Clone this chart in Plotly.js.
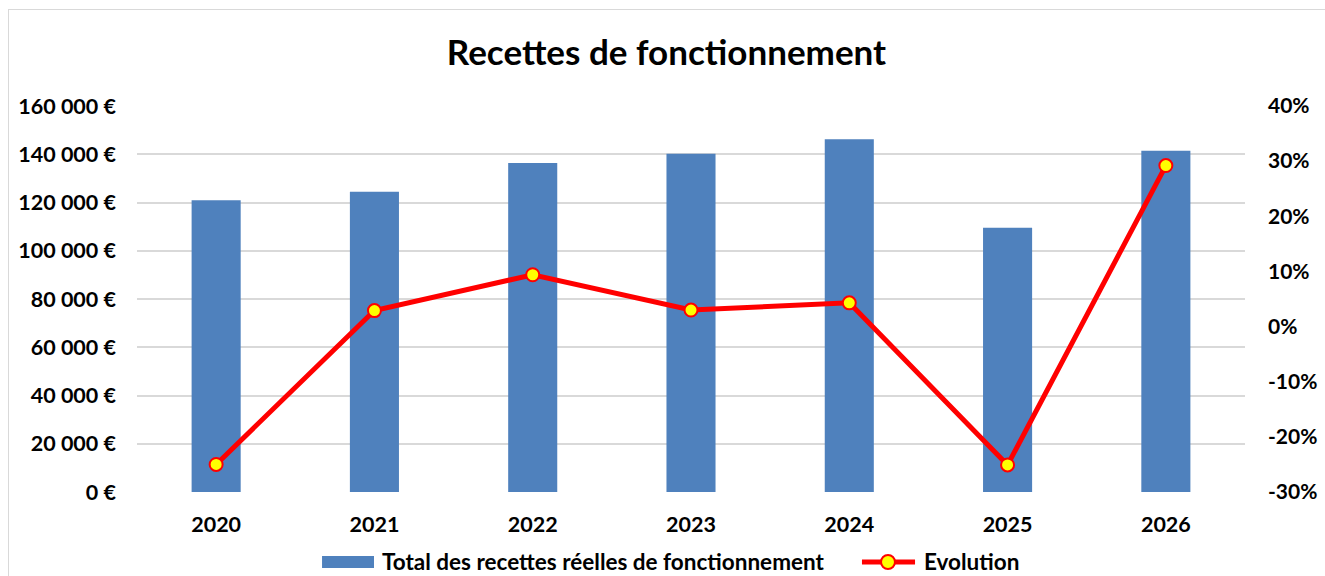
<!DOCTYPE html>
<html>
<head>
<meta charset="utf-8">
<script src="https://cdn.plot.ly/plotly-3.0.1.min.js"></script>
<style>
  html, body { margin: 0; padding: 0; background: #fff; }
  #frame { position: absolute; left: 8px; top: 9px; width: 1330px; height: 580px; border: 1px solid #d9d9d9; box-sizing: border-box; }
  #chart { position: absolute; left: 0; top: 0; width: 1325px; height: 576px; }
</style>
</head>
<body>
<div id="frame"></div>
<div id="chart"></div>
<script>
// Recettes de fonctionnement, 2020-2026
const years = ['2020', '2021', '2022', '2023', '2024', '2025', '2026'];
const recettes = [120900, 124500, 136400, 140200, 146200, 109500, 141500];
const evolution = [-0.250, 0.029, 0.094, 0.030, 0.043, -0.251, 0.292];

const leftTicks = [0, 20000, 40000, 60000, 80000, 100000, 120000, 140000, 160000];
const leftLabels = ['0 €', '20 000 €', '40 000 €', '60 000 €', '80 000 €', '100 000 €', '120 000 €', '140 000 €', '160 000 €'];
const rightTicks = [-0.3, -0.2, -0.1, 0, 0.1, 0.2, 0.3, 0.4];
const rightLabels = ['-30%', '-20%', '-10%', '0%', '10%', '20%', '30%', '40%'];

const BAR_COLOR = '#4f81bd';
const LINE_COLOR = '#ff0000';
const MARKER_COLOR = '#ffff00';
const FONT = 'Lato, "Open Sans", sans-serif';

const bold = s => '<b>' + s + '</b>';

const traces = [
    {
        x: years,
        y: recettes,
        name: 'Total des recettes réelles de fonctionnement',
        type: 'bar',
        marker: { color: BAR_COLOR }
    },
    {
        x: years,
        y: evolution,
        name: 'Evolution',
        type: 'scatter',
        mode: 'lines+markers',
        yaxis: 'y2',
        line: { color: LINE_COLOR, width: 5 },
        marker: { color: MARKER_COLOR, size: 13, line: { color: LINE_COLOR, width: 2 } }
    }
];

// hand-built legend (wide bar swatch like the original)
const legendShapes = [
    { type: 'rect', xref: 'paper', yref: 'paper', x0: 0.167, x1: 0.2139, y0: -0.1969, y1: -0.1658,
      fillcolor: BAR_COLOR, line: { width: 0 } },
    { type: 'line', xref: 'paper', yref: 'paper', x0: 0.6543, x1: 0.7022, y0: -0.1813, y1: -0.1813,
      line: { color: LINE_COLOR, width: 5 } },
    { type: 'circle', xref: 'paper', yref: 'paper', x0: 0.6715, x1: 0.6841, y0: -0.1995, y1: -0.1632,
      fillcolor: MARKER_COLOR, line: { color: LINE_COLOR, width: 2 } }
];
const legendLabels = [
    { text: bold(traces[0].name), x: 0.2193 },
    { text: bold(traces[1].name), x: 0.7085 }
].map(l => ({
    text: l.text, x: l.x, y: -0.1813, xref: 'paper', yref: 'paper',
    xanchor: 'left', yanchor: 'middle', showarrow: false,
    font: { size: 22.5, family: FONT, color: '#000' }
}));

const layout = {
    width: 1325,
    height: 576,
    font: { family: FONT, color: '#000' },
    paper_bgcolor: 'rgba(0,0,0,0)',
    plot_bgcolor: 'rgba(0,0,0,0)',
    margin: { l: 137, r: 80, t: 106, b: 84 },
    bargap: 0.69,
    showlegend: false,
    title: {
        text: bold('Recettes de fonctionnement'),
        font: { size: 35, family: FONT, color: '#000' },
        x: 0.503,
        xanchor: 'center',
        y: 0.908,
        yanchor: 'middle'
    },
    shapes: legendShapes,
    annotations: legendLabels,
    xaxis: {
        type: 'category',
        tickvals: years,
        ticktext: years.map(bold),
        showgrid: false,
        showline: false,
        zeroline: false,
        ticks: '',
        tickfont: { size: 21.5, family: FONT },
        ticklabelstandoff: 17
    },
    yaxis: {
        range: [0, 160000],
        tickvals: leftTicks,
        ticktext: leftLabels.map(bold),
        showgrid: true,
        gridcolor: '#d9d9d9',
        gridwidth: 2,
        zeroline: false,
        showline: false,
        tickfont: { size: 21.5, family: FONT },
        ticklabelstandoff: 20
    },
    yaxis2: {
        overlaying: 'y',
        side: 'right',
        range: [-0.3, 0.4],
        tickvals: rightTicks,
        ticktext: rightLabels.map(bold),
        showgrid: false,
        zeroline: false,
        showline: false,
        tickfont: { size: 21, family: FONT },
        ticklabelstandoff: 22
    }
};

Plotly.newPlot('chart', traces, layout, { displayModeBar: false, staticPlot: true });
</script>
</body>
</html>
